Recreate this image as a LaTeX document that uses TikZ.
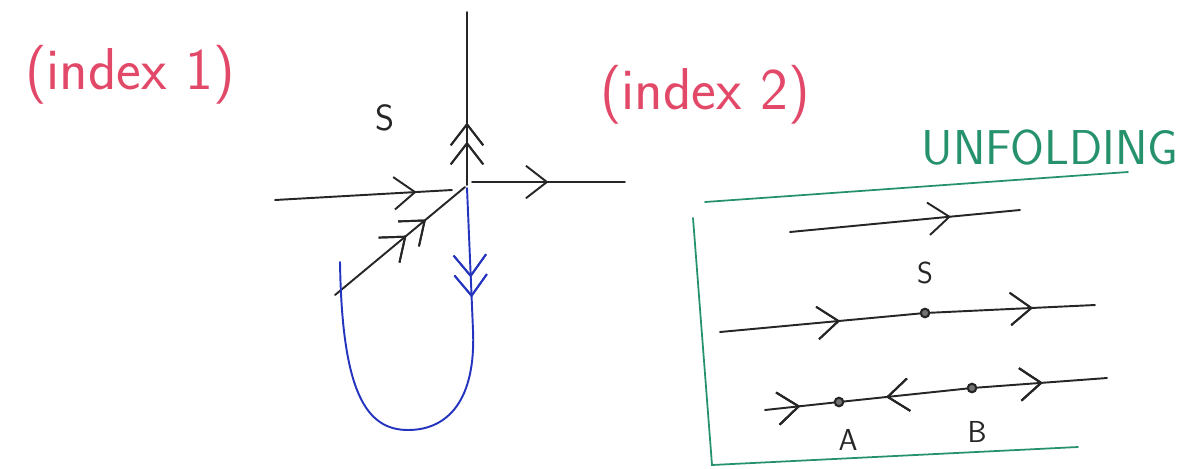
\documentclass[tikz,border=0pt]{standalone}
\usetikzlibrary{arrows.meta,decorations.markings}
\definecolor{inkred}{RGB}{226,72,104}
\definecolor{inkgreen}{RGB}{38,146,108}
\definecolor{inkblue}{RGB}{36,52,190}
\begin{document}
\begin{tikzpicture}[x=0.02cm, y=-0.02cm, line width=1.1pt, line cap=round]

% Styles for flow lines, arrows and labels
\tikzset{
    barb/.style={decoration={markings, mark=at position #1 with {\arrow{Straight Barb[length=4.2mm,width=6.5mm]}}}, postaction=decorate},
    backbarb/.style={decoration={markings, mark=at position #1 with {\arrowreversed{Straight Barb[length=4.2mm,width=6.5mm]}}}, postaction=decorate}
}
\tikzstyle{flow} = [draw=black!85]
\tikzstyle{frame} = [draw=inkgreen, line width=1pt]
\tikzstyle{dot} = [circle, draw=black!85, fill=black!55, line width=1.2pt, minimum size=0.17cm, inner sep=0pt]
\tikzstyle{tag} = [font=\sffamily\Huge, text=inkred, scale=1.35]
\tikzstyle{letter} = [font=\sffamily\LARGE, text=black!85]

\useasboundingbox (0,0) rectangle (1188,468);

% Labels
\node[tag] (idx1) at (130,75) {(index 1)};
\node[tag] (idx2) at (705,95) {(index 2)};
\node[font=\sffamily\Huge, text=inkgreen, scale=1.12] (unf) at (1050,148) {UNFOLDING};
\node[letter, font=\sffamily\huge] (sleft) at (385,118) {S};

% Saddle with its separatrices
\coordinate (o) at (467,185);
\coordinate (top) at (467,12);
\coordinate (west) at (275,200);
\coordinate (westend) at (452,190);
\coordinate (east) at (472,182);
\coordinate (eastend) at (625,182);
\coordinate (diag) at (335,295);
\coordinate (diagend) at (465,187);

\draw[flow, barb=0.25, barb=0.36] (o) -- (top);
\draw[flow, barb=0.8] (west) -- (westend);
\draw[flow, barb=0.5] (east) -- (eastend);
\draw[flow, barb=0.55, barb=0.70] (diag) -- (diagend);

% Blue loop
\coordinate (bdown) at (473,330);
\coordinate (bbot) at (408,430);
\coordinate (bleft) at (340,262);
\draw[inkblue, barb=0.63, barb=0.77] (467,188) -- (bdown);
\draw[inkblue] (bdown) .. controls (476,400) and (448,430) .. (bbot)
    .. controls (366,430) and (342,392) .. (bleft);

% Unfolding box
\coordinate (f1) at (705,202);
\coordinate (f2) at (1128,172);
\coordinate (f3) at (693,218);
\coordinate (f4) at (712,465);
\coordinate (f5) at (1078,447);
\draw[frame] (f1) -- (f2);
\draw[frame] (f3) -- (f4) -- (f5);

% Top flow line
\coordinate (r1a) at (790,232);
\coordinate (r1b) at (1020,210);
\draw[flow, barb=0.70] (r1a) -- (r1b);

% Middle flow line through S
\coordinate (r2a) at (720,332);
\coordinate (r2b) at (1095,305);
\node[dot] (S) at (925,313) {};
\node[letter] (slab) at (925,273) {S};
\draw[flow, barb=0.33, barb=0.83] (r2a) -- (S) -- (r2b);

% Bottom flow line through A and B
\coordinate (r3a) at (765,410);
\coordinate (r3b) at (1107,378);
\node[dot] (A) at (839,402) {};
\node[dot] (B) at (972,388) {};
\node[letter] (alab) at (848,440) {A};
\node[letter] (blab) at (977,432) {B};
\draw[flow, barb=0.11, backbarb=0.345, barb=0.80] (r3a) -- (A) -- (B) -- (r3b);

\end{tikzpicture}
\end{document}
